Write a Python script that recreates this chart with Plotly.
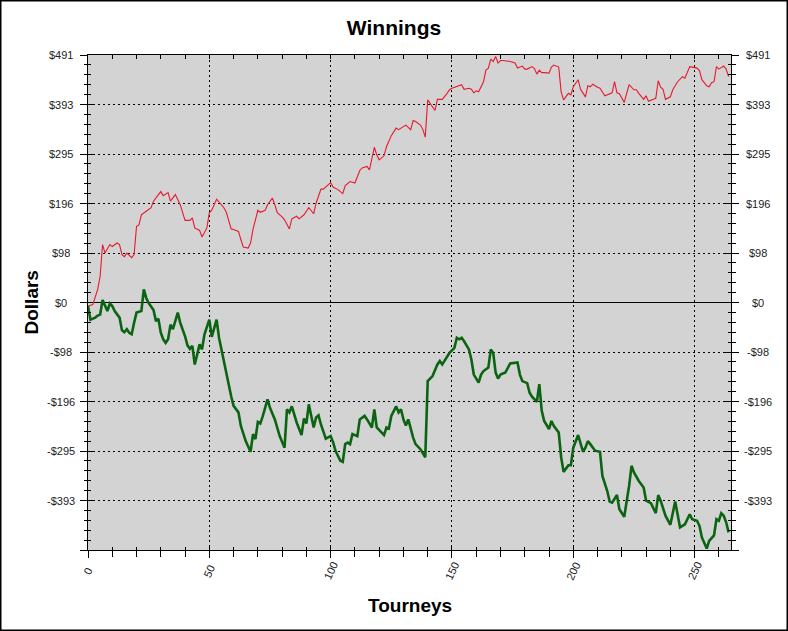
import plotly.graph_objects as go

# ---------------- data ----------------
tourney_red = [0, 2, 4, 5, 6, 7, 9, 10, 12, 13, 14, 15, 16, 18, 19, 20, 21, 22, 24, 26,
               27, 29, 30, 31, 33, 34, 36, 38, 40, 42, 43, 44, 46, 47, 49, 50, 51, 53, 55, 56,
               57, 59, 60, 62, 63, 64, 66, 67, 68, 70, 71, 73, 74, 76, 77, 78, 80, 81, 83, 84,
               86, 87, 89, 90, 91, 93, 94, 96, 97, 100, 101, 103, 105, 106, 107, 108, 110, 112, 113, 115,
               116, 118, 119, 120, 122, 123, 125, 127, 128, 130, 131, 133, 134, 135, 137, 138, 139, 140, 141, 143,
               144, 146, 148, 149, 150, 152, 154, 155, 157, 158, 159, 160, 161, 163, 164, 165, 166, 167, 168, 169,
               170, 171, 174, 176, 177, 179, 180, 181, 183, 184, 185, 186, 187, 188, 190, 191, 192, 194, 195, 196,
               198, 199, 200, 202, 203, 205, 206, 207, 208, 210, 211, 213, 214, 216, 217, 218, 219, 221, 222, 223,
               225, 226, 227, 229, 230, 231, 233, 234, 235, 236, 237, 238, 240, 241, 243, 245, 246, 248, 249, 251,
               252, 253, 255, 256, 257, 258, 259, 260, 262, 263, 264]
winnings_red = [-7, -4, 26, 52, 115, 98, 115, 111, 118, 115, 95, 91, 98, 89, 95, 151, 154, 174, 181, 188,
                201, 214, 220, 212, 218, 201, 214, 194, 163, 163, 168, 148, 143, 130, 148, 178, 183, 205, 194, 188,
                179, 146, 145, 141, 125, 110, 108, 118, 145, 183, 179, 183, 194, 207, 194, 178, 170, 164, 146, 166,
                171, 166, 174, 181, 188, 176, 197, 225, 225, 238, 229, 224, 216, 232, 236, 240, 237, 262, 267, 270,
                263, 308, 293, 283, 291, 309, 331, 346, 343, 348, 352, 343, 361, 359, 352, 343, 328, 402, 395, 381,
                403, 403, 415, 422, 425, 428, 432, 423, 425, 423, 416, 420, 418, 438, 461, 465, 483, 478, 488, 475,
                480, 480, 478, 475, 465, 469, 463, 463, 468, 464, 453, 461, 456, 456, 455, 467, 471, 467, 418, 402,
                415, 412, 428, 442, 423, 408, 430, 428, 433, 427, 425, 410, 412, 416, 438, 416, 414, 397, 415, 432,
                422, 422, 415, 403, 410, 399, 403, 405, 440, 427, 423, 403, 408, 422, 438, 448, 445, 468, 467, 465,
                460, 442, 430, 428, 436, 438, 468, 463, 469, 463, 448]

tourney_green = [0, 1, 3, 4, 5, 6, 8, 9, 10, 11, 13, 14, 15, 16, 17, 18, 19, 20, 22, 23,
                 24, 25, 27, 28, 29, 30, 31, 32, 33, 34, 35, 37, 38, 40, 41, 42, 43, 44, 46, 47,
                 48, 50, 51, 53, 54, 55, 57, 59, 60, 62, 63, 65, 67, 68, 69, 70, 71, 72, 74, 75,
                 77, 79, 81, 82, 83, 84, 86, 88, 89, 90, 91, 92, 93, 94, 95, 96, 97, 98, 100, 101,
                 102, 104, 105, 106, 107, 108, 109, 111, 112, 114, 115, 117, 118, 119, 122, 123, 124, 125, 127, 128,
                 129, 130, 131, 132, 134, 135, 137, 139, 140, 142, 144, 145, 146, 148, 149, 151, 152, 153, 154, 155,
                 157, 158, 159, 161, 162, 163, 165, 166, 167, 168, 169, 170, 172, 174, 177, 178, 179, 181, 182, 183,
                 185, 186, 187, 188, 190, 191, 192, 194, 195, 196, 198, 199, 200, 202, 204, 205, 206, 207, 209, 211,
                 212, 214, 215, 216, 218, 219, 221, 223, 224, 225, 227, 229, 230, 232, 234, 235, 236, 238, 240, 242,
                 244, 246, 248, 249, 251, 252, 253, 255, 256, 258, 259, 260, 261, 262, 263, 264]
winnings_green = [-7, -34, -30, -26, -24, 5, -17, -2, -7, -17, -30, -55, -59, -53, -60, -63, -40, -20, -17, 26,
                  9, -1, -15, -37, -32, -60, -73, -80, -73, -44, -53, -20, -40, -67, -85, -92, -86, -123, -83, -93,
                  -63, -34, -68, -34, -70, -93, -146, -186, -205, -218, -245, -275, -296, -261, -271, -237, -240, -226, -192, -209,
                  -232, -265, -288, -212, -218, -206, -238, -263, -230, -240, -202, -225, -248, -228, -224, -242, -258, -270, -265, -277,
                  -294, -314, -316, -281, -278, -281, -261, -265, -232, -225, -232, -248, -212, -248, -263, -248, -250, -225, -206, -218,
                  -212, -232, -244, -232, -268, -281, -291, -307, -156, -146, -123, -116, -123, -106, -100, -90, -70, -73, -70, -77,
                  -93, -113, -143, -159, -143, -136, -129, -93, -100, -139, -151, -143, -139, -121, -119, -143, -156, -160, -179, -187,
                  -197, -162, -215, -235, -251, -235, -245, -258, -307, -336, -323, -323, -288, -263, -296, -288, -275, -281, -294, -296,
                  -344, -374, -395, -397, -382, -410, -425, -364, -324, -337, -354, -367, -393, -398, -418, -382, -393, -423, -441, -395,
                  -446, -440, -420, -430, -433, -443, -466, -488, -473, -462, -430, -433, -418, -423, -436, -456]

y_tick_values = [-392.8, -294.6, -196.4, -98.2, 0.0, 98.2, 196.4, 294.6, 392.8, 491.0]
y_tick_labels = ["-$393", "-$295", "-$196", "-$98", "$0", "$98", "$196", "$295", "$393", "$491"]
x_tick_values = [0, 50, 100, 150, 200, 250]
x_tick_labels = ["0", "50", "100", "150", "200", "250"]

# ---------------- layout geometry ----------------
W, H = 788, 631
ML, MR, MT, MB = 88, 57, 55, 81
PW, PH = W - ML - MR, H - MT - MB
X_RANGE = [0, 265]
Y_RANGE = [-491, 491]
Y_STEP = 98.2
FONT = "Arial, Liberation Sans, sans-serif"
GRID_DASH = "2px,3px"


def pxx(px):
    return (px - ML) / PW


def pxy(py):
    return (H - MB - py) / PH


fig = go.Figure()
fig.add_trace(go.Scatter(x=tourney_red, y=winnings_red, mode="lines",
                         line=dict(color="#e8192c", width=1.1), showlegend=False,
                         hoverinfo="skip"))
fig.add_trace(go.Scatter(x=tourney_green, y=winnings_green, mode="lines",
                         line=dict(color="#0b6412", width=2.6), showlegend=False,
                         hoverinfo="skip"))
# empty helper traces so the overlay tick axes get drawn
for xa, ya in [("x2", "y2"), ("x3", "y3"), ("x2", "y4")]:
    fig.add_trace(go.Scatter(x=[], y=[], xaxis=xa, yaxis=ya, showlegend=False,
                             hoverinfo="skip"))

base_x = dict(range=X_RANGE, showticklabels=False, zeroline=False, tick0=0,
              tickcolor="black", fixedrange=True)
base_y = dict(range=Y_RANGE, showticklabels=False, tick0=0, dtick=Y_STEP,
              tickcolor="black", fixedrange=True)

fig.update_layout(
    width=W, height=H,
    margin=dict(l=ML, r=MR, t=MT, b=MB, pad=0),
    paper_bgcolor="white",
    plot_bgcolor="#d3d3d3",
    font=dict(family=FONT, color="#222222", size=11),
    title=dict(text="<b>Winnings</b>", x=0.5, xref="container", xanchor="center",
               y=1 - 28 / H, yanchor="middle", yref="container",
               font=dict(size=21, color="black", family=FONT)),
    xaxis=dict(**base_x, dtick=50, ticks="outside", ticklen=7, tickwidth=1,
               showline=True, linecolor="black", linewidth=1,
               showgrid=True, gridcolor="black", griddash=GRID_DASH, gridwidth=1,
               minor=dict(ticks="outside", ticklen=6, dtick=10, tick0=0,
                          tickcolor="black", showgrid=False)),
    xaxis2=dict(**base_x, overlaying="x", side="bottom", anchor="y", dtick=50,
                ticks="inside", ticklen=4, showline=False, showgrid=False,
                minor=dict(ticks="inside", ticklen=3, dtick=10, tick0=0,
                           tickcolor="black", showgrid=False)),
    xaxis3=dict(**base_x, overlaying="x", side="top", anchor="y", dtick=10,
                ticks="inside", ticklen=4, showline=True, linecolor="black",
                linewidth=1, showgrid=False),
    yaxis=dict(**base_y, ticks="outside", ticklen=7, side="left",
               showline=True, linecolor="black", linewidth=1,
               showgrid=True, gridcolor="black", griddash=GRID_DASH, gridwidth=1,
               zeroline=True, zerolinecolor="black", zerolinewidth=1,
               minor=dict(ticks="outside", ticklen=3, dtick=Y_STEP / 5, tick0=0,
                          tickcolor="black", showgrid=False)),
    yaxis2=dict(**base_y, overlaying="y", side="right", anchor="x2", ticks="outside",
                ticklen=7, showline=True, linecolor="black", linewidth=1,
                showgrid=False, zeroline=False,
                minor=dict(ticks="outside", ticklen=4, dtick=Y_STEP / 5, tick0=0,
                           tickcolor="black", showgrid=False)),
    yaxis3=dict(**base_y, overlaying="y", side="left", anchor="x3", ticks="inside",
                ticklen=5, showline=False, showgrid=False, zeroline=False,
                minor=dict(ticks="inside", ticklen=3, dtick=Y_STEP / 5, tick0=0,
                           tickcolor="black", showgrid=False)),
    yaxis4=dict(**base_y, overlaying="y", side="right", anchor="x2", ticks="inside",
                ticklen=7, showline=False, showgrid=False, zeroline=False,
                minor=dict(ticks="inside", ticklen=3, dtick=Y_STEP / 5, tick0=0,
                           tickcolor="black", showgrid=False)),
)

annotations = []
# y tick labels, centred, on both sides
for v, lab in zip(y_tick_values, y_tick_labels):
    for cx in (61, 757.5):
        annotations.append(dict(x=pxx(cx), y=v, xref="paper", yref="y", text=lab,
                                showarrow=False, xanchor="center", yanchor="middle",
                                font=dict(size=11, color="#222222", family=FONT)))
# x tick labels, rotated
for v, lab in zip(x_tick_values, x_tick_labels):
    annotations.append(dict(x=v, y=pxy(571), xref="x", yref="paper", text=lab,
                            showarrow=False, xanchor="center", yanchor="middle",
                            textangle=-65,
                            font=dict(size=11, color="#222222", family=FONT)))
# axis titles
annotations.append(dict(x=pxx(31), y=0.5, xref="paper", yref="paper",
                        text="<b>Dollars</b>", showarrow=False, textangle=-90,
                        xanchor="center", yanchor="middle",
                        font=dict(size=19, color="black", family=FONT)))
annotations.append(dict(x=pxx(410), y=pxy(605), xref="paper", yref="paper",
                        text="<b>Tourneys</b>", showarrow=False,
                        xanchor="center", yanchor="middle",
                        font=dict(size=19, color="black", family=FONT)))
fig.update_layout(annotations=annotations)

# outer frame around the whole picture
fig.add_shape(type="rect", xref="paper", yref="paper",
              x0=pxx(0.5), x1=pxx(W - 0.5), y0=pxy(H - 0.5), y1=pxy(0.5),
              line=dict(color="black", width=2), fillcolor="rgba(0,0,0,0)",
              layer="above")

fig.write_html("out.html",
               config={"displayModeBar": False},
               post_script="document.body.style.margin='0px';"
                           "document.body.style.overflow='hidden';")
